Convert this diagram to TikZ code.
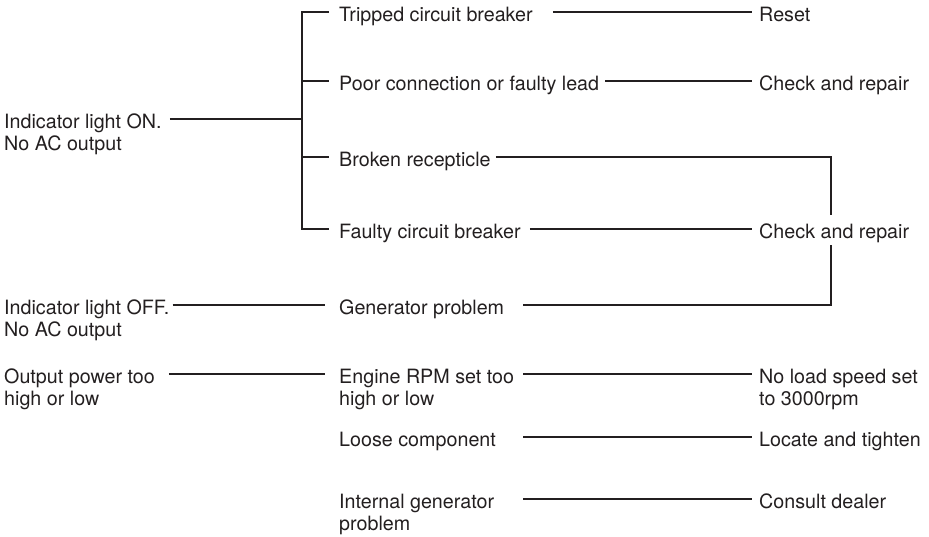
\documentclass[tikz,border=0pt]{standalone}
\usepackage{fontspec}
\setmainfont{TeX Gyre Heros}
\definecolor{ink}{RGB}{35,31,32}
\newcommand{\twoline}[2]{\begin{tabular}[t]{@{}l@{}}#1\\#2\end{tabular}}
\begin{document}
\begin{tikzpicture}[x=1pt,y=-1pt,
  lbl/.style={anchor=west, inner sep=0pt, text height=18pt, text depth=0pt,
              text=ink, font=\fontsize{19.7}{22.5}\selectfont},
  ln/.style={draw=ink, line width=2.1pt, line join=miter}]
\useasboundingbox (0,0) rectangle (929,536);
% left column
\node[lbl] (on)   at (4,119) {\twoline{Indicator light ON.}{No AC output}};
\node[lbl] (off)  at (4,305) {\twoline{Indicator light OFF.}{No AC output}};
\node[lbl] (outp) at (4,374) {\twoline{Output power too}{high or low}};
% middle column
\node[lbl] (t1) at (339,12)  {Tripped circuit breaker};
\node[lbl] (t2) at (339,81)  {Poor connection or faulty lead};
\node[lbl] (t3) at (339,157) {Broken recepticle};
\node[lbl] (t4) at (339,229) {Faulty circuit breaker};
\node[lbl] (gen) at (339,305) {Generator problem};
\node[lbl] (eng) at (339,374) {\twoline{Engine RPM set too}{high or low}};
\node[lbl] (loose) at (339,437) {Loose component};
\node[lbl] (intl) at (339,499) {\twoline{Internal generator}{problem}};
% right column
\node[lbl] (s1) at (759,12)  {Reset};
\node[lbl] (s2) at (759,81)  {Check and repair};
\node[lbl] (s3) at (759,229) {Check and repair};
\node[lbl] (s4) at (759,374) {\twoline{No load speed set}{to 3000rpm}};
\node[lbl] (s5) at (759,437) {Locate and tighten};
\node[lbl] (s6) at (759,499) {Consult dealer};
% helper coordinates
\coordinate (bk) at (302,119);
\coordinate (cx) at (523,0);
\coordinate (rtop) at (831,215);
\coordinate (rbot) at (831,245);
\coordinate (tk1) at ([xshift=-10pt]t1.west);
\coordinate (tk2) at ([xshift=-10pt]t2.west);
\coordinate (tk3) at ([xshift=-10pt]t3.west);
\coordinate (tk4) at ([xshift=-10pt]t4.west);
% left bracket
\draw[ln] ([xshift=8pt]on.east) -- (bk);
\draw[ln] (tk1) -- (tk1 -| bk) -- (tk4 -| bk) -- (tk4);
\draw[ln] (tk2 -| bk) -- (tk2);
\draw[ln] (tk3 -| bk) -- (tk3);
% connectors
\draw[ln] ([xshift=20pt]t1.east) -- ([xshift=-7pt]s1.west);
\draw[ln] ([xshift=6pt]t2.east) -- ([xshift=-7pt]s2.west);
\draw[ln] ([xshift=5pt]t3.east) -| (rtop);
\draw[ln] ([xshift=9pt]t4.east) -- ([xshift=-7pt]s3.west);
\draw[ln] (cx |- gen.east) -| (rbot);
\draw[ln] ([xshift=3pt]off.east) -- ([xshift=-14pt]gen.west);
\draw[ln] ([xshift=14pt]outp.east) -- ([xshift=-14pt]eng.west);
\draw[ln] (cx |- eng.east) -- ([xshift=-7pt]s4.west);
\draw[ln] (cx |- loose.east) -- ([xshift=-7pt]s5.west);
\draw[ln] (cx |- intl.east) -- ([xshift=-7pt]s6.west);
\end{tikzpicture}
\end{document}
